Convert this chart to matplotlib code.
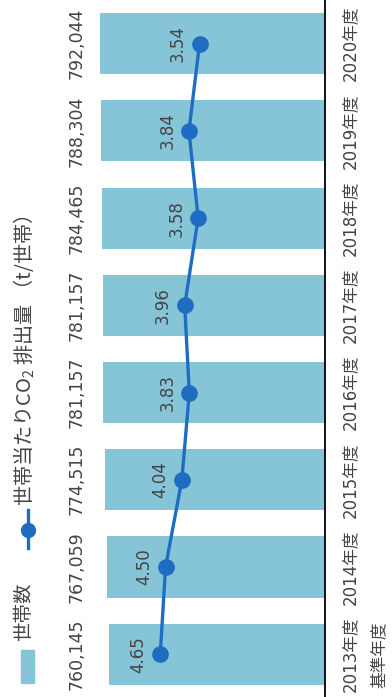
import matplotlib
matplotlib.use("Agg")
import matplotlib.pyplot as plt
from matplotlib.patches import Rectangle
from matplotlib.lines import Line2D

plt.rcParams['font.family'] = ['DejaVu Sans', 'Noto Sans CJK JP']
plt.rcParams['mathtext.fontset'] = 'custom'
plt.rcParams['mathtext.rm'] = 'Noto Sans CJK JP'
jp_font = ['Noto Sans CJK JP', 'DejaVu Sans']

# data
years = ['2013年度', '2014年度', '2015年度', '2016年度',
         '2017年度', '2018年度', '2019年度', '2020年度']
households = [760145, 767059, 774515, 781157, 781157, 784465, 788304, 792044]
co2_per_household = [4.65, 4.50, 4.04, 3.83, 3.96, 3.58, 3.84, 3.54]

bar_color = '#86c4d7'
line_color = '#1f6dc2'
text_color = '#444444'

W, H = 392, 697
fig = plt.figure(figsize=(W / 100, H / 100), dpi=100)
ax = fig.add_axes([38 / W, 0, 287 / W, 1])

pos = list(range(len(years)))
ax.barh(pos, households, height=0.7, color=bar_color, zorder=1)
ax.set_xlim(1010000, 0)
ax.set_ylim(-0.49, 7.5)
ax.axis('off')
ax.axvline(0, color='black', lw=1.3, zorder=3, clip_on=False)

# household counts (top of the original chart -> left side)
for p, v in zip(pos, households):
    ax.text(0.136, p, f'{v:,}', transform=ax.get_yaxis_transform(),
            rotation=90, ha='center', va='center', fontsize=12.5, color=text_color)

# year labels
for p, y in zip(pos, years):
    ax.text(1.087, p, y, transform=ax.get_yaxis_transform(),
            rotation=90, ha='center', va='center', fontsize=12, color=text_color)
ax.text(1.19, 0, '基準年度', transform=ax.get_yaxis_transform(),
        rotation=90, ha='center', va='center', fontsize=12, color=text_color,
        family=jp_font)

# CO2 per household line
ax2 = ax.twiny()
ax2.plot(co2_per_household, pos, color=line_color, lw=2.4, marker='o',
         markersize=11, zorder=4)
ax2.set_xlim(8.1, 0)
ax2.set_ylim(-0.49, 7.5)
ax2.axis('off')
for p, v in zip(pos, co2_per_household):
    ax2.annotate(f'{v:.2f}', (v, p), xytext=(-15.5, 0), textcoords='offset points',
                 rotation=90, ha='center', va='center', fontsize=12, color=text_color)

# legend drawn by hand (rotated)
fig.patches.append(Rectangle((21 / W, 14 / H), 13 / W, 33 / H,
                             transform=fig.transFigure, color=bar_color))
fig.text(24 / W, 1 - 612 / H, '世帯数', rotation=90, ha='center', va='center',
         fontsize=14, color=text_color, family=jp_font)
fig.lines.append(Line2D([28 / W, 28 / W], [1 - 548 / H, 1 - 510 / H],
                        transform=fig.transFigure, color=line_color, lw=2.4))
fig.lines.append(Line2D([28 / W], [1 - 530 / H], transform=fig.transFigure,
                        color=line_color, marker='o', markersize=10, lw=0))
fig.text(24 / W, 1 - 506 / H, '世帯当たりCO$_2$ 排出量 （t/世帯）', rotation=90,
         ha='center', va='bottom', fontsize=14.5, color=text_color, family=jp_font)

fig.savefig('out.png', dpi=100)
